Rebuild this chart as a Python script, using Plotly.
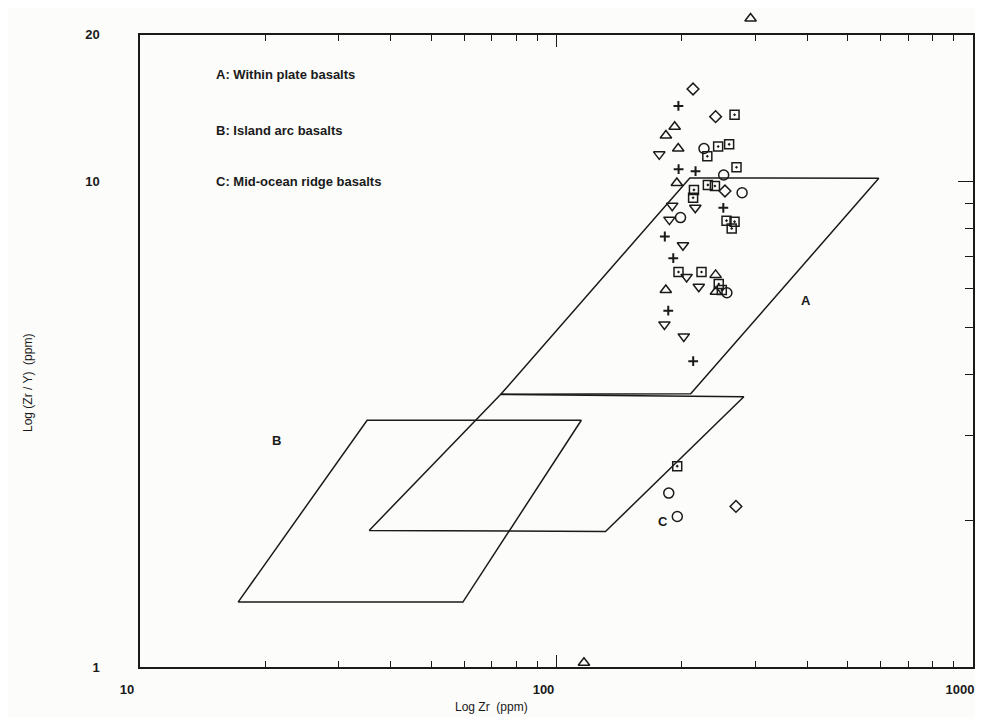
import plotly.graph_objects as go

# Field boundaries (Zr ppm, Zr/Y)
field_a_x = [73.5, 209, 594, 210]
field_a_y = [3.64, 10.15, 10.13, 3.65]
field_b_x = [17.2, 59.6, 114.7, 35.1]
field_b_y = [1.36, 1.36, 3.22, 3.22]
field_c_x = [35.5, 131.1, 281.7, 73.5]
field_c_y = [1.91, 1.90, 3.60, 3.64]

# Samples
circles_x = [226, 252, 279, 198.5, 256.5, 186, 195]
circles_y = [11.67, 10.29, 9.46, 8.41, 5.89, 2.28, 2.04]

squares_x = [267.6, 230.2, 244.4, 259.7, 270.5, 230.9, 240.1, 213.8, 212.8, 256.0, 267.6, 263.4, 196.3, 222.9, 245.2, 249.4, 194.9]
squares_y = [13.69, 11.25, 11.78, 11.90, 10.68, 9.82, 9.77, 9.59, 9.24, 8.29, 8.25, 7.99, 6.50, 6.50, 6.14, 5.97, 2.59]

up_tri_x = [192.2, 183.1, 196.0, 194.5, 241.0, 241.4, 183.0, 116.4]
up_tri_y = [12.94, 12.41, 11.67, 9.91, 6.41, 5.92, 5.97, 1.02]

# one triangle plots above the top of the frame
up_tri_out_x = [292.4]
up_tri_out_y = [21.6]

down_tri_x = [176.5, 215.4, 189.6, 201.2, 205.3, 219.6, 181.6, 202.1, 186.7]
down_tri_y = [11.35, 8.81, 8.90, 7.38, 6.35, 6.06, 5.07, 4.79, 8.33]

plus_x = [196.2, 196.4, 215.7, 251.5, 182.0, 190.7, 185.5, 212.9]
plus_y = [14.28, 10.58, 10.48, 8.81, 7.69, 6.94, 5.41, 4.26]

diamond_x = [212.7, 241.0, 253.8, 269.7]
diamond_y = [15.47, 13.57, 9.54, 2.14]

x_tick_vals = [10, 100, 1000]
x_tick_text = ["10", "100", "1000"]
y_tick_vals = [1, 10, 20]
y_tick_text = ["1", "10", "20"]
x_minor = [20, 30, 40, 50, 60, 70, 80, 90, 200, 300, 400, 500, 600, 700, 800, 900]
y_minor = [2, 3, 4, 5, 6, 7, 8, 9]

legend_lines = ["A: Within plate basalts", "B: Island arc basalts", "C: Mid-ocean ridge basalts"]

FONT = "Liberation Sans, Arial, sans-serif"
INK = "#1a1a1a"
Y_TOP = 1.30103                 # log10(20)
DOM = 639 / 659                 # frame height / paper height
fig = go.Figure()

for fx, fy in [(field_a_x, field_a_y), (field_b_x, field_b_y), (field_c_x, field_c_y)]:
    fig.add_trace(go.Scatter(x=fx + fx[:1], y=fy + fy[:1], mode="lines",
                             line=dict(color=INK, width=1.5), hoverinfo="skip"))

def pts(x, y, sym, size=9, lw=1.5, yaxis="y"):
    fig.add_trace(go.Scatter(x=x, y=y, mode="markers", cliponaxis=False, yaxis=yaxis,
                             marker=dict(symbol=sym, size=size, color=INK,
                                         line=dict(color=INK, width=lw))))

pts(circles_x, circles_y, "circle-open", 10)
pts(squares_x, squares_y, "square-open-dot", 9)
pts(up_tri_x, up_tri_y, "triangle-up-open", 10)
pts(up_tri_out_x, up_tri_out_y, "triangle-up-open", 10, yaxis="y3")
pts(down_tri_x, down_tri_y, "triangle-down-open", 10)
pts(plus_x, plus_y, "cross-thin-open", 7, 2)
pts(diamond_x, diamond_y, "diamond-open", 9)

# invisible trace for right-side tick axis
fig.add_trace(go.Scatter(x=[10], y=[1], yaxis="y2", mode="markers",
                         marker=dict(opacity=0), hoverinfo="skip"))

tickfont = dict(family=FONT, size=13, color=INK, weight="bold")

fig.update_layout(
    width=975, height=709,
    margin=dict(l=132, r=10, t=0, b=50),
    paper_bgcolor="#fcfcfa", plot_bgcolor="rgba(0,0,0,0)",
    showlegend=False,
    xaxis=dict(type="log", range=[1, 3], showgrid=False, zeroline=False,
               showline=True, linecolor=INK, linewidth=1.5, mirror="ticks",
               ticks="inside", ticklen=12, tickwidth=1.2, tickcolor=INK,
               tickvals=x_tick_vals, ticktext=x_tick_text, tickfont=tickfont,
               ticklabelstandoff=10, ticklabelshift=-13, ticklabeloverflow="allow",
               minor=dict(ticks="inside", ticklen=6, tickwidth=1.2, tickcolor=INK,
                          tickvals=x_minor, showgrid=False)),
    yaxis=dict(type="log", range=[0, Y_TOP], domain=[0, DOM], showgrid=False, zeroline=False,
               showline=True, linecolor=INK, linewidth=1.5, mirror=True,
               ticks="", tickvals=y_tick_vals, ticktext=y_tick_text, tickfont=tickfont,
               ticklabelstandoff=36, ticklabeloverflow="allow"),
    yaxis2=dict(type="log", range=[0, Y_TOP], overlaying="y", side="right",
                showgrid=False, zeroline=False, showline=False, showticklabels=False,
                ticks="inside", ticklen=15, tickwidth=1.2, tickcolor=INK,
                tickvals=[10],
                minor=dict(ticks="inside", ticklen=8, tickwidth=1.2, tickcolor=INK,
                           tickvals=y_minor, showgrid=False)),
    yaxis3=dict(type="log", range=[0, Y_TOP / DOM], domain=[0, 1], anchor="x",
                visible=False, showgrid=False, zeroline=False),
)

annfont = dict(family=FONT, size=13, color=INK, weight="bold")
for txt, yp in zip(legend_lines, [0.909, 0.8225, 0.745]):
    fig.add_annotation(text=txt, xref="paper", yref="paper", x=0.0888, y=yp,
                       xanchor="left", yanchor="middle", showarrow=False, font=annfont)

for txt, xp, yp in [("A", 0.808, 0.5615), ("B", 0.156, 0.3475), ("C", 0.628, 0.2079)]:
    fig.add_annotation(text=txt, xref="paper", yref="paper", x=xp, y=yp,
                       showarrow=False, font=dict(family=FONT, size=13, color=INK, weight="bold"))

fig.add_annotation(text="Log Zr  (ppm)", xref="paper", yref="paper", x=0.4214, y=-0.0744,
                   showarrow=False, font=dict(family=FONT, size=12, color=INK))
fig.add_annotation(text="Log (Zr / Y)  (ppm)", xref="paper", yref="paper", x=-0.1453, y=0.4355,
                   textangle=-90, showarrow=False, font=dict(family=FONT, size=12, color=INK))

fig.write_html("out.html")
